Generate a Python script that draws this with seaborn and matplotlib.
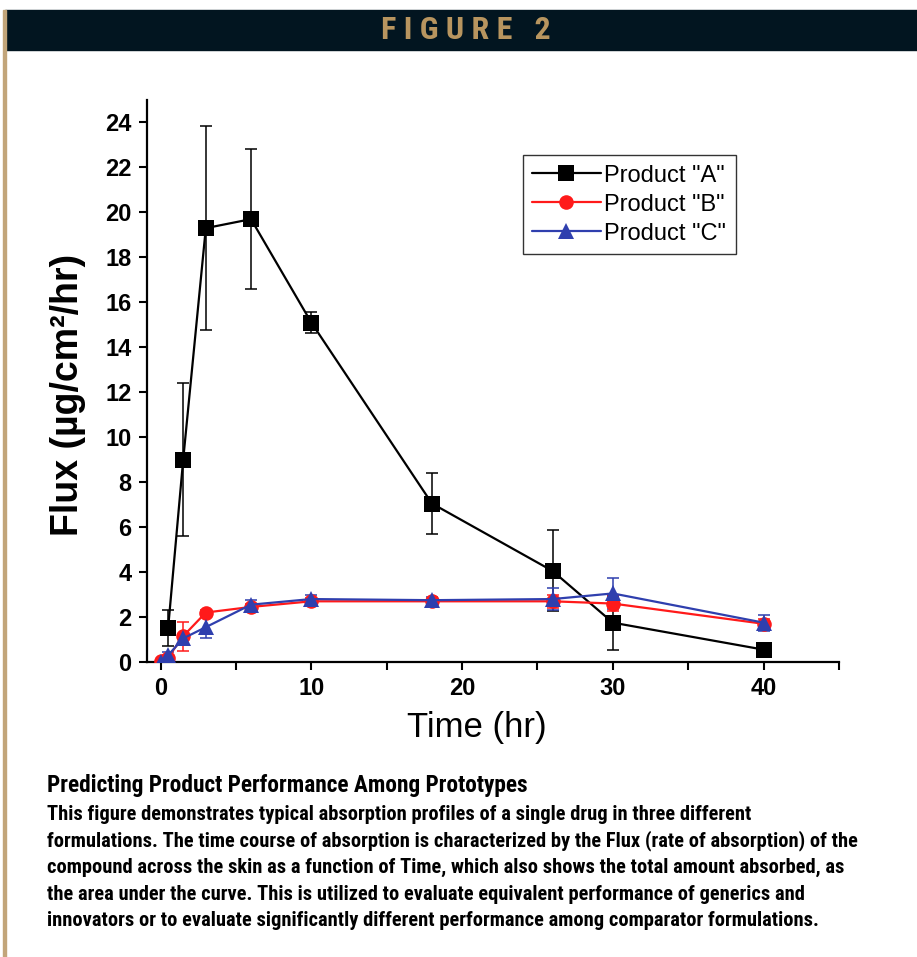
import matplotlib
matplotlib.use('Agg')
import matplotlib.pyplot as plt
from matplotlib.patches import Rectangle
import seaborn as sns

# Meetpunten (tijd in uur) en flux per product
time_a = [0.5, 1.5, 3, 6, 10, 18, 26, 30, 40]
flux_a = [1.5, 9.0, 19.3, 19.7, 15.1, 7.05, 4.05, 1.75, 0.55]
err_a = [0.8, 3.4, 4.55, 3.1, 0.45, 1.35, 1.8, 1.2, 0.15]

time_bc = [0, 0.5, 1.5, 3, 6, 10, 18, 26, 30, 40]
flux_b = [0.05, 0.2, 1.15, 2.2, 2.45, 2.7, 2.7, 2.7, 2.6, 1.7]
err_b = [0.05, 0.1, 0.65, 0.1, 0.15, 0.15, 0.1, 0.3, 0.35, 0.2]
flux_c = [0.0, 0.3, 1.05, 1.55, 2.55, 2.8, 2.75, 2.8, 3.05, 1.75]
err_c = [0.05, 0.15, 0.2, 0.5, 0.2, 0.2, 0.15, 0.5, 0.7, 0.35]

labels = ['Product "A"', 'Product "B"', 'Product "C"']
kleuren = ['black', '#ff1a1a', '#2f3fae']
markers = ['s', 'o', '^']

x_ticks = [0, 10, 20, 30, 40]
y_ticks = [0, 2, 4, 6, 8, 10, 12, 14, 16, 18, 20, 22, 24]

caption_title = "Predicting Product Performance Among Prototypes"
caption_lines = [
    "This figure demonstrates typical absorption profiles of a single drug in three different",
    "formulations. The time course of absorption is characterized by the Flux (rate of absorption) of the",
    "compound across the skin as a function of Time, which also shows the total amount absorbed, as",
    "the area under the curve. This is utilized to evaluate equivalent performance of generics and",
    "innovators or to evaluate significantly different performance among comparator formulations.",
]

sns.set_style('ticks')
plt.rcParams['font.family'] = ['Liberation Sans', 'DejaVu Sans']
plt.rcParams['text.color'] = 'black'
plt.rcParams['axes.labelcolor'] = 'black'
plt.rcParams['xtick.color'] = 'black'
plt.rcParams['ytick.color'] = 'black'
smal = ['Roboto Condensed', 'Liberation Sans']

W, H = 917, 957
fig = plt.figure(figsize=(W / 100, H / 100), dpi=100)
ax = fig.add_axes([147 / W, 1 - 662 / H, 692 / W, 562 / H])

series = [(time_a, flux_a, err_a), (time_bc, flux_b, err_b), (time_bc, flux_c, err_c)]
for (t, f, e), lab, kl, mk in zip(series, labels, kleuren, markers):
    ax.errorbar(t, f, yerr=e, fmt='none', ecolor=kl, elinewidth=1.1, capsize=4, capthick=1.1, zorder=2)
    sns.lineplot(x=t, y=f, ax=ax, color=kl, marker=mk, markersize=11 if mk != 'o' else 10.5,
                 markeredgewidth=0, linewidth=1.6, label=lab, zorder=3)

ax.set_xlim(-0.9, 45)
ax.set_ylim(0, 25)
ax.set_xticks(x_ticks)
ax.set_xticks([5, 15, 25, 35, 45], minor=True)
ax.set_yticks(y_ticks)
for lbl in ax.get_xticklabels() + ax.get_yticklabels():
    lbl.set_fontweight('bold')
    lbl.set_fontsize(17)
ax.tick_params(axis='both', which='major', direction='out', length=6, width=1.5, color='black', pad=5)
ax.tick_params(axis='x', which='minor', direction='out', length=6, width=1.5, color='black')
sns.despine(ax=ax)
for s in ['left', 'bottom']:
    ax.spines[s].set_linewidth(1.6)
    ax.spines[s].set_color('black')

ax.set_xlabel('Time (hr)', fontsize=25)
ax.xaxis.set_label_coords(0.477, -0.087)
ax.set_ylabel('Flux (µg/cm²/hr)', fontsize=27, fontweight='bold')
ax.yaxis.set_label_coords(-0.088, 0.476)

handles, labs = ax.get_legend_handles_labels()
leg = ax.legend(handles, labs, loc='upper left', bbox_to_anchor=(0.543, 0.902), frameon=True,
                fancybox=False, edgecolor='black', fontsize=17, handlelength=2.9,
                handletextpad=0.15, labelspacing=0.3, borderpad=0.4, borderaxespad=0)
leg.get_frame().set_linewidth(1.0)

# Kopbalk en rand
fig.patches.append(Rectangle((5 / W, 1 - 50 / H), 1 - 5 / W, 40 / H, transform=fig.transFigure,
                             color='#021520', zorder=0))
fig.patches.append(Rectangle((3 / W, 0), 3 / W, 1 - 10 / H, transform=fig.transFigure,
                             color='#c2a57a', zorder=0))
fig.text(466 / W, 1 - 30 / H, 'F I G U R E   2', ha='center', va='center', color='#b8955f',
         fontsize=23, fontweight='bold', family=smal)

# Onderschrift
fig.text(47 / W, 1 - 792 / H, caption_title, ha='left', va='baseline', fontsize=16.8,
         fontweight='bold', family=smal)
for i, regel in enumerate(caption_lines):
    fig.text(47 / W, 1 - (820 + 26.5 * i) / H, regel, ha='left', va='baseline', fontsize=14.8,
             fontweight='bold', family=smal)

fig.savefig('out.png', dpi=100, facecolor='white')
